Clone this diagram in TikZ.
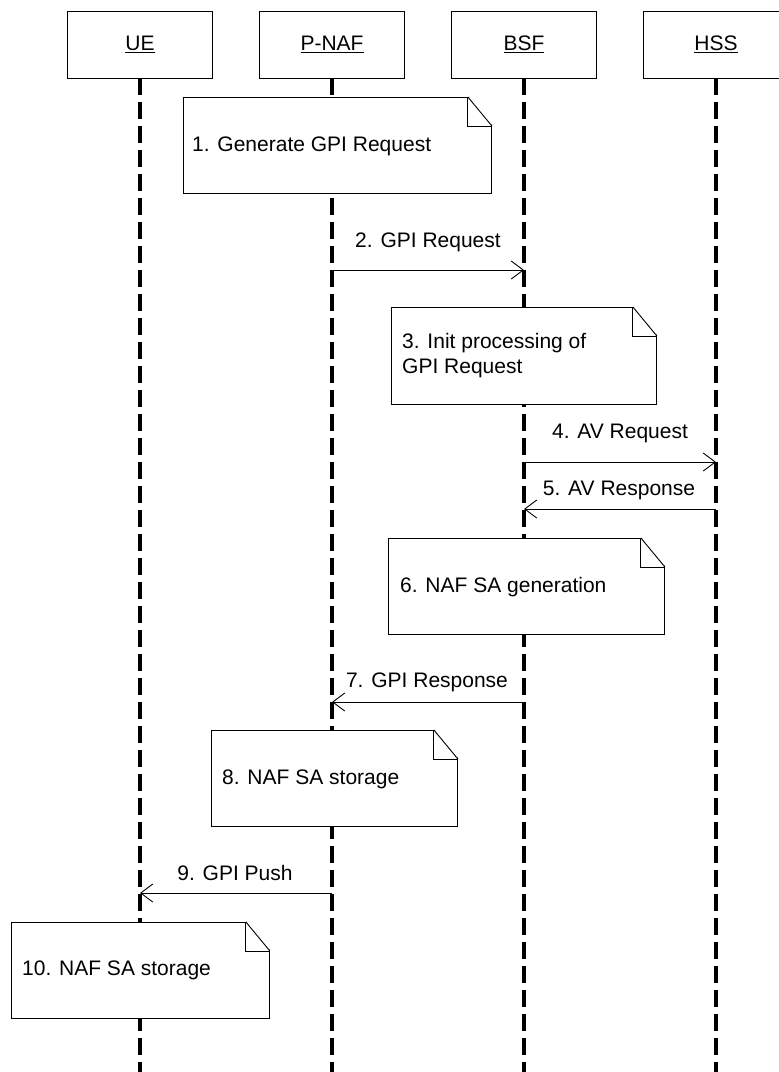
\documentclass[tikz,border=0pt]{standalone}
\usepackage{fontspec}
\setmainfont{Liberation Sans}
\usetikzlibrary{arrows.meta}
\newcommand\dogear[1]{%
  \fill[white] ([xshift=-24pt,yshift=1pt]#1.north east) -- ([xshift=1pt,yshift=1pt]#1.north east) -- ([xshift=1pt,yshift=-29pt]#1.north east) -- cycle;
  \draw[line width=0.9pt] ([xshift=-24pt]#1.north east) -- ([yshift=-29pt]#1.north east);
  \draw[line width=0.9pt] ([xshift=-24pt]#1.north east) -- ([xshift=-24pt,yshift=-29pt]#1.north east) -- ([yshift=-29pt]#1.north east);
}
\begin{document}
\begin{tikzpicture}[x=1pt,y=-1pt,
  lbl/.style={font=\fontsize{21}{25}\selectfont, inner sep=0pt},
  actor/.style={draw, line width=0.9pt, minimum width=145pt, minimum height=67pt, inner sep=0pt, font=\fontsize{21}{25}\selectfont},
  lifeline/.style={line width=3.5pt, dash pattern=on 17pt off 7pt},
  msg/.style={line width=0.9pt, -{Straight Barb[length=12pt,width=18pt,line width=0.9pt]}},
  notebox/.style={draw, fill=white, line width=0.9pt, inner sep=0pt, anchor=north west}
]
\useasboundingbox (0,0) rectangle (779,1072);
\fill[white] (0,0) rectangle (779,1072);

% actors
\node[actor] (ue)   at (140,44.5) {\underline{UE}};
\node[actor] (pnaf) at (332,44.5) {\underline{P-NAF}};
\node[actor] (bsf)  at (524,44.5) {\underline{BSF}};
\node[actor] (hss)  at (716,44.5) {\underline{HSS}};

% lifeline ends
\coordinate (ueend)   at (140,1072);
\coordinate (pnafend) at (332,1072);
\coordinate (bsfend)  at (524,1072);
\coordinate (hssend)  at (716,1072);
\draw[lifeline] (ue.south) -- (ueend);
\draw[lifeline] (pnaf.south) -- (pnafend);
\draw[lifeline] (bsf.south) -- (bsfend);
\draw[lifeline] (hss.south) -- (hssend);

% note 1
\node[notebox, minimum width=308pt, minimum height=96pt] (n1) at (183,97) {};
\dogear{n1}
\node[lbl, anchor=base west] (t1) at (192,151) {1. Generate GPI Request};

% message 2
\coordinate (m2) at (0,270);
\draw[msg] (pnaf |- m2) -- (bsf |- m2);
\node[lbl, anchor=base] (l2) at (428,247) {2. GPI Request};

% note 3
\node[notebox, minimum width=265pt, minimum height=97pt] (n3) at (391,307) {};
\dogear{n3}
\node[lbl, anchor=base west, align=left] (t3) at (402,373) {3. Init processing of\\GPI Request};

% message 4
\coordinate (m4) at (0,462);
\draw[msg] (bsf |- m4) -- (hss |- m4);
\node[lbl, anchor=base] (l4) at (620,438) {4. AV Request};

% message 5
\coordinate (m5) at (0,509);
\draw[msg] (hss |- m5) -- (bsf |- m5);
\node[lbl, anchor=base] (l5) at (619,495) {5. AV Response};

% note 6
\node[notebox, minimum width=276pt, minimum height=96pt] (n6) at (388,538) {};
\dogear{n6}
\node[lbl, anchor=base west] (t6) at (400,592) {6. NAF SA generation};

% message 7
\coordinate (m7) at (0,702);
\draw[msg] (bsf |- m7) -- (pnaf |- m7);
\node[lbl, anchor=base] (l7) at (427,687) {7. GPI Response};

% note 8
\node[notebox, minimum width=246pt, minimum height=96pt] (n8) at (211,730) {};
\dogear{n8}
\node[lbl, anchor=base west] (t8) at (222,784) {8. NAF SA storage};

% message 9
\coordinate (m9) at (0,893);
\draw[msg] (pnaf |- m9) -- (ue |- m9);
\node[lbl, anchor=base] (l9) at (235,880) {9. GPI Push};

% note 10
\node[notebox, minimum width=258pt, minimum height=96pt] (n10) at (11,922) {};
\dogear{n10}
\node[lbl, anchor=base west] (t10) at (22,975) {10. NAF SA storage};
\end{tikzpicture}
\end{document}
